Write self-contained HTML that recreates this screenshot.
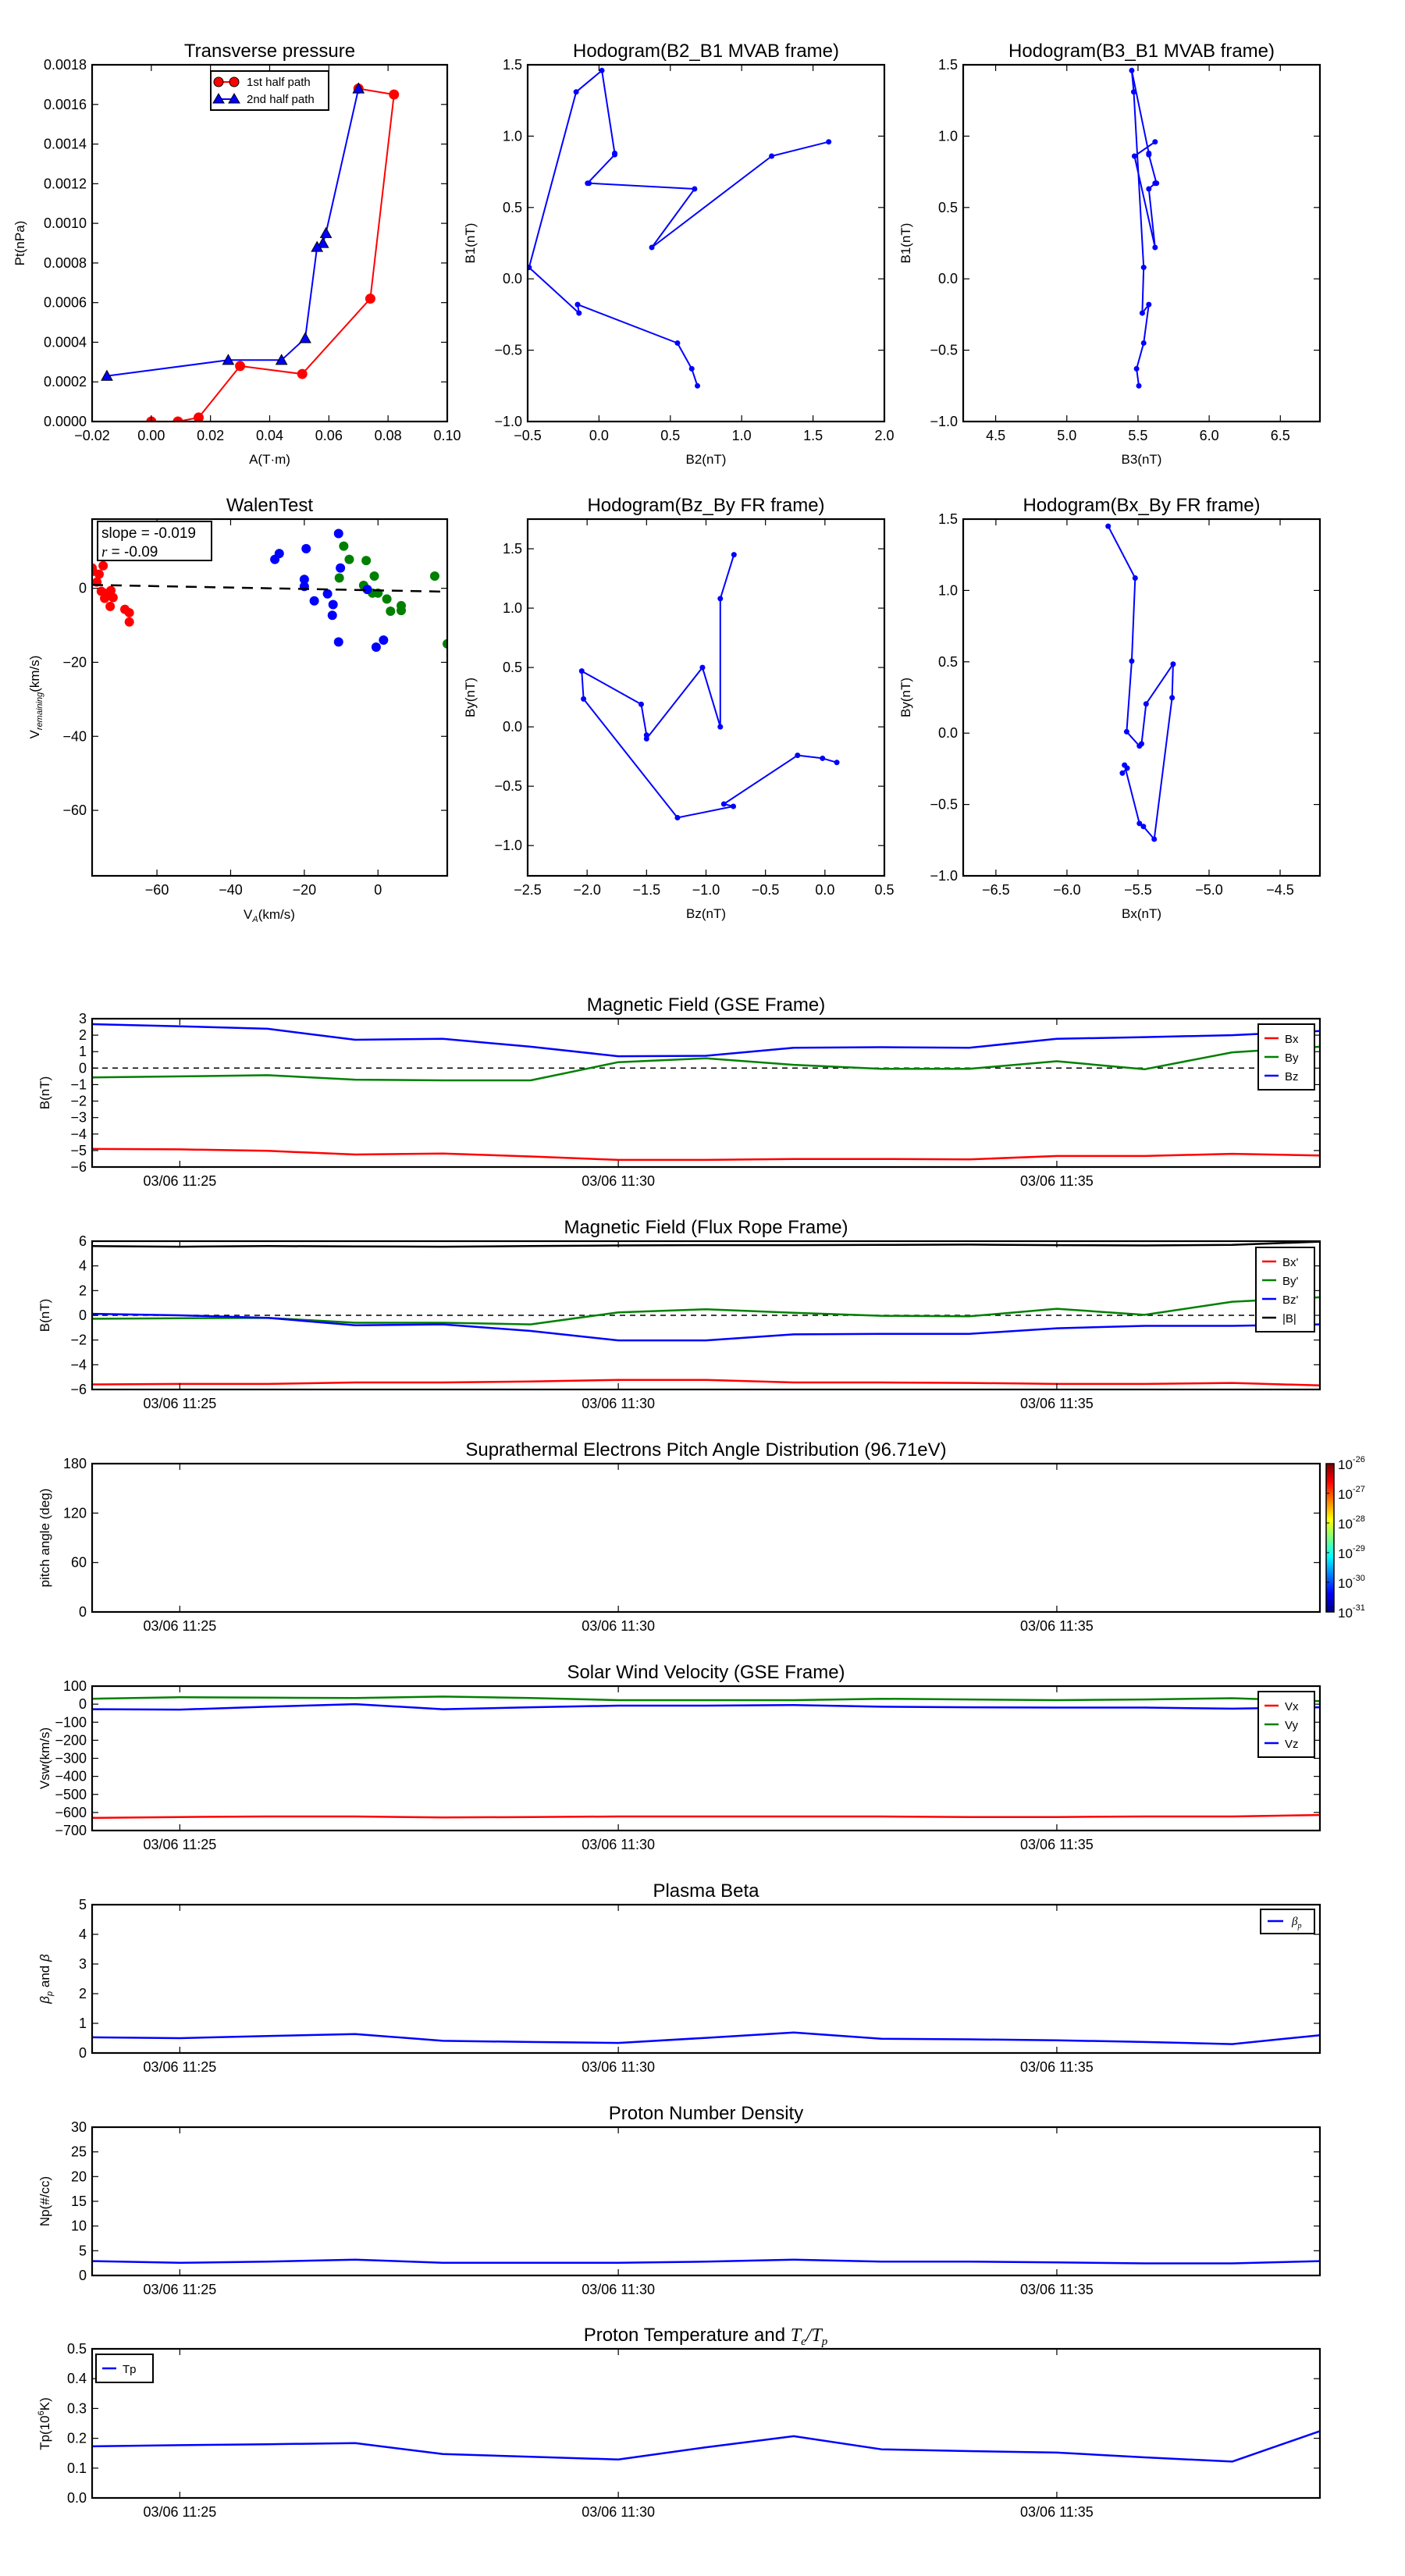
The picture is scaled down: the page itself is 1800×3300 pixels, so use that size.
<!DOCTYPE html>
<html><head><meta charset="utf-8"><style>
html,body{margin:0;padding:0;background:#fff;}
svg{display:block;font-family:"Liberation Sans",sans-serif;}
</style></head><body>
<svg id="fig" xmlns="http://www.w3.org/2000/svg" width="1800" height="3300" viewBox="0 0 1800 3300">
<defs>
<linearGradient id="jet" x1="0" y1="1" x2="0" y2="0">
<stop offset="0" stop-color="#00007f"/><stop offset="0.125" stop-color="#0000ff"/><stop offset="0.375" stop-color="#00ffff"/><stop offset="0.625" stop-color="#ffff00"/><stop offset="0.875" stop-color="#ff0000"/><stop offset="1" stop-color="#7f0000"/>
</linearGradient>
</defs>
</svg>
<script>
// ---------- data ----------
const ptRedA = [0.000,0.009,0.016,0.030,0.051,0.074,0.082,0.070];
const ptRedP = [0.0000,0.0000,0.00002,0.00028,0.00024,0.00062,0.00165,0.00168];
const ptBlueA = [0.070,0.059,0.058,0.056,0.052,0.044,0.026,-0.015];
const ptBlueP = [0.00168,0.00095,0.00090,0.00088,0.00042,0.00031,0.00031,0.00023];

const mvB1 = [-0.75,-0.63,-0.45,-0.18,-0.24,0.08,1.31,1.46,0.88,0.87,0.67,0.67,0.63,0.22,0.86,0.96];
const mvB2 = [0.69,0.65,0.55,-0.15,-0.14,-0.49,-0.16,0.02,0.11,0.11,-0.08,-0.07,0.67,0.37,1.21,1.61];
const mvB3 = [5.506,5.49,5.54,5.576,5.53,5.54,5.47,5.456,5.576,5.576,5.63,5.62,5.576,5.62,5.475,5.62];

const walRedX = [-77.6,-77.4,-75.7,-76.3,-74.6,-75.1,-72.5,-74.2,-71.9,-72.7,-68.7,-67.5,-67.5,-73.4];
const walRedY = [5.5,4.6,3.8,1.7,6.1,-0.8,-0.6,-2.7,-2.5,-4.9,-5.7,-6.6,-9.1,-1.3];
const walGreenX = [-10.5,-9.3,-7.8,-3.9,-3.2,-1.0,-1.5,0.0,2.4,3.4,6.3,6.3,15.4,18.8];
const walGreenY = [2.8,11.4,7.8,0.8,7.5,3.3,-1.3,-1.3,-2.9,-6.2,-4.7,-6.0,3.3,-15.0];
const walBlueX = [-28,-26.8,-19.5,-20,-20,-17.3,-13.7,-12.2,-12.4,-10.7,-10.2,-10.7,-2.9,-0.5,1.5];
const walBlueY = [7.8,9.4,10.7,2.4,0.5,-3.4,-1.5,-4.4,-7.3,14.8,5.5,-14.5,-0.3,-15.9,-14.0];
const walSlope = -0.019;
const walIntercept = -0.55;

const frBz = [-0.765,-0.88,-0.88,-1.03,-1.5,-1.5,-1.545,-2.045,-2.03,-1.24,-0.77,-0.85,-0.23,-0.02,0.10];
const frBy = [1.45,1.08,0.0,0.5,-0.1,-0.07,0.19,0.47,0.235,-0.765,-0.67,-0.65,-0.24,-0.265,-0.30];
const frBx = [-5.71,-5.52,-5.544,-5.58,-5.49,-5.475,-5.443,-5.253,-5.26,-5.386,-5.462,-5.49,-5.595,-5.576,-5.61];
const frByB = [1.45,1.087,0.505,0.01,-0.09,-0.075,0.205,0.484,0.248,-0.743,-0.654,-0.633,-0.224,-0.245,-0.28];

const times = ['11:24','11:25','11:26','11:27','11:28','11:29','11:30','11:31','11:32','11:33','11:34','11:35','11:36','11:37','11:38'];
const gseBx = [-4.9,-4.93,-5.02,-5.24,-5.18,-5.36,-5.57,-5.57,-5.51,-5.51,-5.54,-5.33,-5.33,-5.2,-5.3];
const gseBy = [-0.56,-0.5,-0.43,-0.7,-0.74,-0.74,0.36,0.6,0.2,-0.04,-0.04,0.42,-0.07,0.96,1.3];
const gseBz = [2.67,2.54,2.39,1.72,1.78,1.3,0.72,0.75,1.24,1.27,1.24,1.78,1.88,2.0,2.25];
const ropeBx = [-5.59,-5.55,-5.55,-5.43,-5.43,-5.35,-5.23,-5.23,-5.43,-5.43,-5.47,-5.55,-5.55,-5.47,-5.67];
const ropeBy = [-0.28,-0.24,-0.2,-0.6,-0.6,-0.73,0.24,0.49,0.2,-0.04,-0.08,0.53,0.04,1.1,1.46];
const ropeBz = [0.12,0.0,-0.2,-0.81,-0.73,-1.26,-2.03,-2.03,-1.54,-1.5,-1.5,-1.05,-0.85,-0.85,-0.73];
const ropeB = [5.6,5.55,5.6,5.58,5.55,5.6,5.65,5.68,5.68,5.7,5.72,5.68,5.65,5.7,5.96];
const vswX = [-630,-625,-622,-622,-628,-625,-622,-622,-622,-622,-625,-625,-622,-622,-614];
const vswY = [30,38,36,34,42,34,22,22,22,30,26,22,26,33,17];
const vswZ = [-28,-30,-14,0,-28,-17,-8,-8,-5,-14,-17,-19,-19,-25,-17];
const betaP = [0.53,0.5,0.57,0.64,0.41,0.37,0.34,0.51,0.69,0.48,0.46,0.43,0.37,0.3,0.6];
const densNp = [2.9,2.55,2.8,3.2,2.55,2.55,2.55,2.8,3.2,2.8,2.8,2.66,2.45,2.45,2.9];
const tempTp = [0.173,0.177,0.18,0.184,0.147,0.138,0.129,0.17,0.207,0.163,0.157,0.152,0.136,0.122,0.224];
const timeTicks = ['11:25','11:30','11:35'];
const cbarLabels = ['-26','-27','-28','-29','-30','-31'];

// ---------- helpers ----------
const svg = document.getElementById('fig');
const NS = 'http://www.w3.org/2000/svg';
let clipN = 0;
function mk(tag, attrs, parent){
  const e = document.createElementNS(NS, tag);
  for (const k in attrs) e.setAttribute(k, attrs[k]);
  (parent || svg).appendChild(e);
  return e;
}
function txt(x, y, s, size, anchor, parent, extra){
  const a = {x:x, y:y, 'font-size':size, 'text-anchor':anchor||'middle', fill:'#000'};
  if (extra) for (const k in extra) a[k] = extra[k];
  const t = mk('text', a, parent);
  t.textContent = s;
  return t;
}
function fmt(v, d){ return v.toFixed(d).replace('-', '\u2212'); }
function tmin(s){ const p = s.split(':'); return (+p[0]) * 60 + (+p[1]) - (11*60+24); }

function axes(o){
  const g = mk('g', {});
  
  
  const sx = v => o.x0 + (v - o.xmin) / (o.xmax - o.xmin) * (o.x1 - o.x0);
  const sy = v => o.y1 - (v - o.ymin) / (o.ymax - o.ymin) * (o.y1 - o.y0);
  const id = 'clip' + (clipN++);
  const cp = mk('clipPath', {id:id}, g);
  mk('rect', {x:o.x0, y:o.y0, width:o.x1-o.x0, height:o.y1-o.y0}, cp);
  const data = mk('g', {'clip-path':'url(#'+id+')'}, g);
  
  
  // ticks
  (o.xt || []).forEach((v, i) => {
    const x = sx(v);
    mk('line', {x1:x, x2:x, y1:o.y1, y2:o.y1-8, stroke:'#000', 'stroke-width':1.2}, g);
    mk('line', {x1:x, x2:x, y1:o.y0, y2:o.y0+8, stroke:'#000', 'stroke-width':1.2}, g);
    const t = txt(x, o.y1 + 24, o.xl[i], 18, 'middle', g);
    
    
  });
  (o.yt || []).forEach((v, i) => {
    const y = sy(v);
    mk('line', {x1:o.x0, x2:o.x0+8, y1:y, y2:y, stroke:'#000', 'stroke-width':1.2}, g);
    mk('line', {x1:o.x1, x2:o.x1-8, y1:y, y2:y, stroke:'#000', 'stroke-width':1.2}, g);
    const t = txt(o.x0 - 7, y + 6, o.yl[i], 18, 'end', g);
    
    
  });
  if (o.title){
    const t = txt((o.x0+o.x1)/2, o.y0 - 10, o.title, 24, 'middle', g);
    
    
  }
  if (o.xlabel){
    const t = txt((o.x0+o.x1)/2, o.y1 + 54, o.xlabel, 17, 'middle', g);
    
    
  }
  if (o.ylabel){
    const cy = (o.y0+o.y1)/2;
    const t = txt(o.ylx, cy, o.ylabel, 17, 'middle', g, {transform:'rotate(-90 '+o.ylx+' '+cy+')'});
    
    
  }
  const fr = mk('rect', {x:o.x0, y:o.y0, width:o.x1-o.x0, height:o.y1-o.y0, fill:'none', stroke:'#000', 'stroke-width':2.2}, g);
  
  
  return {sx:sx, sy:sy, data:data, g:g};
}
function poly(ax, xs, ys, color, w, name, extra){
  const pts = xs.map((x, i) => ax.sx(x).toFixed(1) + ',' + ax.sy(ys[i]).toFixed(1)).join(' ');
  const a = {points:pts, fill:'none', stroke:color, 'stroke-width':w, 'stroke-linejoin':'round'};
  if (extra) for (const k in extra) a[k] = extra[k];
  const p = mk('polyline', a, ax.data);
  
  
  return p;
}
function dots(ax, xs, ys, color, r, name){
  xs.forEach((x, i) => {
    const c = mk('circle', {cx:ax.sx(x), cy:ax.sy(ys[i]), r:r, fill:color, stroke:'none'}, ax.data);
    
    
  });
}
function tris(ax, xs, ys, color, s, name){
  xs.forEach((x, i) => {
    const cx = ax.sx(x), cy = ax.sy(ys[i]);
    const p = mk('polygon', {points:(cx)+','+(cy-s)+' '+(cx-s)+','+(cy+s*0.8)+' '+(cx+s)+','+(cy+s*0.8), fill:color, stroke:'#000', 'stroke-width':1}, ax.data);
    
    
  });
}
function legend(x, y, w, entries, name){
  const g = mk('g', {});
  
  
  const h = entries.length * 24 + 12;
  mk('rect', {x:x, y:y, width:w, height:h, fill:'#fff', stroke:'#000', 'stroke-width':2}, g);
  entries.forEach((e, i) => {
    const cy = y + 18 + i * 24;
    mk('line', {x1:x+8, x2:x+26, y1:cy, y2:cy, stroke:e[1], 'stroke-width':2.5}, g);
    const t = txt(x+34, cy+6, e[0], 15, 'start', g);
    
    
  });
}
function range(a, b, s){ const r = []; for (let v = a; v <= b + 1e-9; v += s) r.push(+v.toFixed(6)); return r; }

// ---------- row 1 ----------
let yt, xt;
xt = range(-0.02, 0.10, 0.02); yt = range(0, 0.0018, 0.0002);
const axPt = axes({name:'transverse-pressure-chart', x0:118, x1:573, y0:83, y1:540, xmin:-0.02, xmax:0.10, ymin:0, ymax:0.0018,
  xt:xt, xl:xt.map(v=>fmt(v,2)), yt:yt, yl:yt.map(v=>fmt(v,4)), title:'Transverse pressure', xlabel:'A(T\u00b7m)', ylabel:'Pt(nPa)', ylx:31});
poly(axPt, ptRedA, ptRedP, '#ff0000', 2, 'first-half-path-line');
poly(axPt, ptBlueA, ptBlueP, '#0000ff', 2, 'second-half-path-line');
dots(axPt, ptRedA, ptRedP, '#ff0000', 6.5, 'first-half-marker');
tris(axPt, ptBlueA, ptBlueP, '#0000ff', 7, 'second-half-marker');
(function(){
  const g = mk('g', {});
  
  
  mk('rect', {x:270, y:91, width:151, height:50, fill:'#fff', stroke:'#000', 'stroke-width':2}, g);
  mk('line', {x1:279, x2:301, y1:105, y2:105, stroke:'#ff0000', 'stroke-width':2}, g);
  mk('circle', {cx:280, cy:105, r:6, fill:'#ff0000', stroke:'#000'}, g);
  mk('circle', {cx:300, cy:105, r:6, fill:'#ff0000', stroke:'#000'}, g);
  const t1 = txt(316, 110, '1st half path', 15, 'start', g);
  
  
  mk('line', {x1:279, x2:301, y1:127, y2:127, stroke:'#0000ff', 'stroke-width':2}, g);
  mk('polygon', {points:'280,120 273,132 287,132', fill:'#0000ff', stroke:'#000'}, g);
  mk('polygon', {points:'300,120 293,132 307,132', fill:'#0000ff', stroke:'#000'}, g);
  const t2 = txt(316, 132, '2nd half path', 15, 'start', g);
  
  
})();

xt = range(-0.5, 2.0, 0.5); yt = range(-1, 1.5, 0.5);
const axMv1 = axes({name:'hodogram-b2-b1-chart', x0:676, x1:1133, y0:83, y1:540, xmin:-0.5, xmax:2.0, ymin:-1, ymax:1.5,
  xt:xt, xl:xt.map(v=>fmt(v,1)), yt:yt, yl:yt.map(v=>fmt(v,1)), title:'Hodogram(B2_B1 MVAB frame)', xlabel:'B2(nT)', ylabel:'B1(nT)', ylx:608});
poly(axMv1, mvB2, mvB1, '#0000ff', 2, 'hodogram-line');
dots(axMv1, mvB2, mvB1, '#0000ff', 3.5, 'hodogram-point');

xt = range(4.5, 6.5, 0.5);
const axMv2 = axes({name:'hodogram-b3-b1-chart', x0:1234, x1:1691, y0:83, y1:540, xmin:4.272, xmax:6.778, ymin:-1, ymax:1.5,
  xt:xt, xl:xt.map(v=>fmt(v,1)), yt:yt, yl:yt.map(v=>fmt(v,1)), title:'Hodogram(B3_B1 MVAB frame)', xlabel:'B3(nT)', ylabel:'B1(nT)', ylx:1166});
poly(axMv2, mvB3, mvB1, '#0000ff', 2, 'hodogram-line');
dots(axMv2, mvB3, mvB1, '#0000ff', 3.5, 'hodogram-point');

// ---------- row 2 ----------
xt = [-60,-40,-20,0]; yt = [-60,-40,-20,0];
const axW = axes({name:'walen-test-chart', x0:118, x1:573, y0:665, y1:1122, xmin:-77.6, xmax:18.8, ymin:-77.7, ymax:18.7,
  xt:xt, xl:xt.map(v=>fmt(v,0)), yt:yt, yl:yt.map(v=>fmt(v,0)), title:'WalenTest', xlabel:'', ylabel:'', ylx:50});
dots(axW, walRedX, walRedY, '#ff0000', 6, 'walen-point-red');
dots(axW, walGreenX, walGreenY, '#008000', 6, 'walen-point-green');
dots(axW, walBlueX, walBlueY, '#0000ff', 6, 'walen-point-blue');
(function(){
  const xs = [-77.6, 18.8];
  const ys = xs.map(x => walSlope * x + walIntercept);
  poly(axW, xs, ys, '#000', 2.5, 'walen-fit-line', {'stroke-dasharray':'14,10'});
  const g = mk('g', {});
  
  
  mk('rect', {x:125, y:668, width:146, height:50, fill:'#fff', stroke:'#000', 'stroke-width':2}, g);
  txt(130, 689, 'slope = -0.019', 19, 'start', g);
  const t = txt(130, 713, '', 19, 'start', g);
  t.innerHTML = '<tspan font-family="Liberation Serif" font-style="italic">r</tspan> = -0.09';
  const xl = txt(345, 1177, '', 17, 'middle');
  
  
  xl.innerHTML = 'V<tspan font-size="11" dy="4" font-style="italic">A</tspan><tspan dy="-4">(km/s)</tspan>';
  const yl = txt(50, 893, '', 17, 'middle', null, {transform:'rotate(-90 50 893)'});
  
  
  yl.innerHTML = 'V<tspan font-size="11" dy="4" font-style="italic">remaining</tspan><tspan dy="-4">(km/s)</tspan>';
})();

yt = range(-1.0, 1.5, 0.5);
xt = range(-2.5, 0.5, 0.5);
const axFr1 = axes({name:'hodogram-bz-by-chart', x0:676, x1:1133, y0:665, y1:1122, xmin:-2.5, xmax:0.5, ymin:-1.255, ymax:1.75,
  xt:xt, xl:xt.map(v=>fmt(v,1)), yt:yt, yl:yt.map(v=>fmt(v,1)), title:'Hodogram(Bz_By FR frame)', xlabel:'Bz(nT)', ylabel:'By(nT)', ylx:608});
poly(axFr1, frBz, frBy, '#0000ff', 2, 'hodogram-line');
dots(axFr1, frBz, frBy, '#0000ff', 3.5, 'hodogram-point');

xt = range(-6.5, -4.5, 0.5);
const axFr2 = axes({name:'hodogram-bx-by-chart', x0:1234, x1:1691, y0:665, y1:1122, xmin:-6.73, xmax:-4.22, ymin:-1, ymax:1.5,
  xt:xt, xl:xt.map(v=>fmt(v,1)), yt:yt, yl:yt.map(v=>fmt(v,1)), title:'Hodogram(Bx_By FR frame)', xlabel:'Bx(nT)', ylabel:'By(nT)', ylx:1166});
poly(axFr2, frBx, frByB, '#0000ff', 2, 'hodogram-line');
dots(axFr2, frBx, frByB, '#0000ff', 3.5, 'hodogram-point');

// ---------- time series ----------
const tm = times.map(tmin);
const txTicks = timeTicks.map(tmin);
const txLabels = timeTicks.map(s => '03/06 ' + s);
function tsAxes(name, y0, y1, ymin, ymax, yt, yl, title, ylabel){
  return axes({name:name, x0:118, x1:1691, y0:y0, y1:y1, xmin:0, xmax:14, ymin:ymin, ymax:ymax,
    xt:txTicks, xl:txLabels, yt:yt, yl:yl, title:title, xlabel:'', ylabel:ylabel, ylx:63});
}
yt = range(-6, 3, 1);
const axG = tsAxes('gse-field-chart', 1305, 1495, -6, 3, yt, yt.map(v=>fmt(v,0)), 'Magnetic Field (GSE Frame)', 'B(nT)');
poly(axG, [0,14], [0,0], '#000', 1.5, 'zero-line', {'stroke-dasharray':'7,6'});
poly(axG, tm, gseBx, '#ff0000', 2.5, 'bx-line');
poly(axG, tm, gseBy, '#008000', 2.5, 'by-line');
poly(axG, tm, gseBz, '#0000ff', 2.5, 'bz-line');
legend(1612, 1312, 72, [['Bx','#ff0000'],['By','#008000'],['Bz','#0000ff']], 'gse-legend');

yt = range(-6, 6, 2);
const axR = tsAxes('flux-rope-field-chart', 1590, 1780, -6, 6, yt, yt.map(v=>fmt(v,0)), 'Magnetic Field (Flux Rope Frame)', 'B(nT)');
poly(axR, [0,14], [0,0], '#000', 1.5, 'zero-line', {'stroke-dasharray':'7,6'});
poly(axR, tm, ropeBx, '#ff0000', 2.5, 'bx-prime-line');
poly(axR, tm, ropeBy, '#008000', 2.5, 'by-prime-line');
poly(axR, tm, ropeBz, '#0000ff', 2.5, 'bz-prime-line');
poly(axR, tm, ropeB, '#000000', 2.5, 'b-magnitude-line');
legend(1609, 1598, 75, [["Bx'",'#ff0000'],["By'",'#008000'],["Bz'",'#0000ff'],['|B|','#000']], 'flux-rope-legend');

yt = [0,60,120,180];
tsAxes('pitch-angle-chart', 1875, 2065, 0, 180, yt, yt.map(v=>fmt(v,0)), 'Suprathermal Electrons Pitch Angle Distribution (96.71eV)', 'pitch angle (deg)');
(function(){
  const g = mk('g', {});
  
  
  mk('rect', {x:1699, y:1875, width:10, height:190, fill:'url(#jet)', stroke:'#000', 'stroke-width':1.5}, g);
  cbarLabels.forEach((s, i) => {
    const y = 1875 + i * 38;
    mk('line', {x1:1699, x2:1703, y1:y, y2:y, stroke:'#000'}, g);
    const t = txt(1714, y + 7, '', 17, 'start', g);
    
    
    t.innerHTML = '10<tspan font-size="11" dy="-9">' + s + '</tspan>';
  });
})();

yt = range(-700, 100, 100);
const axV = tsAxes('solar-wind-velocity-chart', 2160, 2345, -700, 100, yt, yt.map(v=>fmt(v,0)), 'Solar Wind Velocity (GSE Frame)', 'Vsw(km/s)');
poly(axV, tm, vswX, '#ff0000', 2.5, 'vx-line');
poly(axV, tm, vswY, '#008000', 2.5, 'vy-line');
poly(axV, tm, vswZ, '#0000ff', 2.5, 'vz-line');
legend(1612, 2167, 72, [['Vx','#ff0000'],['Vy','#008000'],['Vz','#0000ff']], 'velocity-legend');

yt = range(0, 5, 1);
const axB = tsAxes('plasma-beta-chart', 2440, 2630, 0, 5, yt, yt.map(v=>fmt(v,0)), 'Plasma Beta', '');
poly(axB, tm, betaP, '#0000ff', 2.5, 'beta-p-line');
(function(){
  const g = mk('g', {});
  
  
  mk('rect', {x:1615, y:2446, width:69, height:31, fill:'#fff', stroke:'#000', 'stroke-width':2}, g);
  mk('line', {x1:1624, x2:1644, y1:2461, y2:2461, stroke:'#0000ff', 'stroke-width':2.5}, g);
  const t = txt(1655, 2466, '', 15, 'start', g, {'font-family':'Liberation Serif','font-style':'italic'});
  t.innerHTML = '\u03b2<tspan font-size="10" dy="4">p</tspan>';
  const yl = txt(63, 2535, '', 17, 'middle', null, {transform:'rotate(-90 63 2535)'});
  
  
  yl.innerHTML = '<tspan font-style="italic">\u03b2</tspan><tspan font-size="11" dy="4" font-style="italic">p</tspan><tspan dy="-4"> and </tspan><tspan font-style="italic">\u03b2</tspan>';
})();

yt = range(0, 30, 5);
const axN = tsAxes('proton-density-chart', 2725, 2915, 0, 30, yt, yt.map(v=>fmt(v,0)), 'Proton Number Density', 'Np(#/cc)');
poly(axN, tm, densNp, '#0000ff', 2.5, 'density-line');

yt = range(0, 0.5, 0.1);
const axT = tsAxes('proton-temperature-chart', 3009, 3200, 0, 0.5, yt, yt.map(v=>fmt(v,1)), '', '');
poly(axT, tm, tempTp, '#0000ff', 2.5, 'tp-line');
legend(123, 3016, 73, [['Tp','#0000ff']], 'temperature-legend');
(function(){
  const t = txt(904, 2999, '', 24, 'middle');
  
  
  t.innerHTML = 'Proton Temperature and <tspan font-family="Liberation Serif" font-style="italic">T</tspan><tspan font-family="Liberation Serif" font-style="italic" font-size="15" dy="5">e</tspan><tspan font-family="Liberation Serif" font-style="italic" dy="-5">/T</tspan><tspan font-family="Liberation Serif" font-style="italic" font-size="15" dy="5">p</tspan>';
  const yl = txt(63, 3105, '', 17, 'middle', null, {transform:'rotate(-90 63 3105)'});
  
  
  yl.innerHTML = 'Tp(10<tspan font-size="11" dy="-7">6</tspan><tspan dy="7">K)</tspan>';
})();
</script>
</body></html>
